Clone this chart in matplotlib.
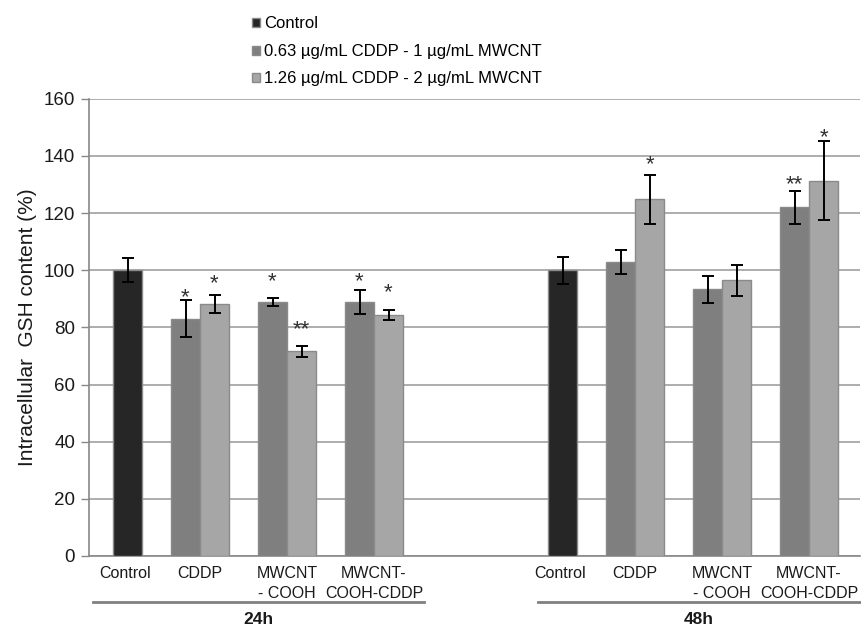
import matplotlib
matplotlib.use("Agg")
import matplotlib.pyplot as plt
import numpy as np
from matplotlib.patches import Patch

plt.rcParams['font.family'] = ['Liberation Sans', 'DejaVu Sans']

# ---- data ----
groups = ["24h", "48h"]
categories = ["Control", "CDDP", "MWCNT\n- COOH", "MWCNT-\nCOOH-CDDP"]
series_labels = ["Control", "0.63 \u00b5g/mL CDDP - 1 \u00b5g/mL MWCNT",
                 "1.26 \u00b5g/mL CDDP - 2 \u00b5g/mL MWCNT"]

control_24 = 100.0
control_24_err = 4.2
low_24 = [83.0, 88.8, 88.8]       # CDDP, MWCNT-COOH, MWCNT-COOH-CDDP
low_24_err = [6.4, 1.5, 4.3]
high_24 = [88.1, 71.6, 84.2]
high_24_err = [3.1, 2.0, 1.7]

control_48 = 100.0
control_48_err = 4.7
low_48 = [102.7, 93.3, 122.0]
low_48_err = [4.2, 4.7, 5.8]
high_48 = [124.8, 96.4, 131.3]
high_48_err = [8.6, 5.5, 13.8]

low_24_stars = ["*", "*", "*"]
high_24_stars = ["*", "**", "*"]
low_48_stars = ["", "", "**"]
high_48_stars = ["*", "", "*"]
# vertical level (in % units) of the significance marks
low_24_star_y = [91.4, 97.0, 97.0]
high_24_star_y = [96.4, 80.2, 93.1]
low_48_star_y = [0, 0, 130.8]
high_48_star_y = [137.8, 0, 147.4]

yticks = [0, 20, 40, 60, 80, 100, 120, 140, 160]
ylabel = "Intracellular  GSH content (%)"

colors = ["#262626", "#7f7f7f", "#a6a6a6"]
edge = "#8a8a8a"

# ---- figure ----
fig = plt.figure(figsize=(8.62, 6.30), dpi=100)
ax = fig.add_axes([89/862, 1-556/630, (860-89)/862, (556-98.7)/630])

w = 1/3.0
group_start = [0, 5]
controls = [control_24, control_48]
controls_err = [control_24_err, control_48_err]
lows = [low_24, low_48]
lows_err = [low_24_err, low_48_err]
highs = [high_24, high_48]
highs_err = [high_24_err, high_48_err]
lows_st = [low_24_stars, low_48_stars]
highs_st = [high_24_stars, high_48_stars]
lows_sy = [low_24_star_y, low_48_star_y]
highs_sy = [high_24_star_y, high_48_star_y]

ekw = dict(ecolor="black", elinewidth=1.4, capsize=4.5, capthick=1.4)
star_kw = dict(ha="center", va="baseline", fontsize=16, color="#303030",
               textcoords="offset points", xytext=(0, -6), zorder=4)
tick_pos = []
tick_lab = []
for g in range(2):
    s = group_start[g]
    xc = s + w/2
    ax.bar(xc, controls[g], width=w, color=colors[0], edgecolor=edge, linewidth=1,
           yerr=controls_err[g], error_kw=ekw, zorder=3)
    tick_pos.append(xc - 0.03)
    tick_lab.append(categories[0])
    for k in range(3):
        c = s + 1 + k
        xl = c - w/2
        xh = c + w/2
        ax.bar(xl, lows[g][k], width=w, color=colors[1], edgecolor=edge, linewidth=1,
               yerr=lows_err[g][k], error_kw=ekw, zorder=3)
        ax.bar(xh, highs[g][k], width=w, color=colors[2], edgecolor=edge, linewidth=1,
               yerr=highs_err[g][k], error_kw=ekw, zorder=3)
        if lows_st[g][k]:
            ax.annotate(lows_st[g][k], (xl, lows_sy[g][k]), **star_kw)
        if highs_st[g][k]:
            ax.annotate(highs_st[g][k], (xh, highs_sy[g][k]), **star_kw)
        tick_pos.append(c)
        tick_lab.append(categories[k+1])

ax.set_xlim(-0.276, 8.586)
ax.set_ylim(0, 160)
ax.set_yticks(yticks)
ax.tick_params(axis="y", labelsize=13.5, length=6, width=1, color="#888888",
               labelcolor="#1a1a1a", pad=4)
ax.set_xticks(tick_pos)
ax.set_xticklabels(tick_lab, fontsize=11.5, color="#1a1a1a", linespacing=1.45)
ax.tick_params(axis="x", length=0, pad=7)
ax.yaxis.grid(True, color="#a0a0a0", linewidth=1.2, zorder=0)
ax.set_axisbelow(True)
for sp in ["top", "right"]:
    ax.spines[sp].set_visible(False)
ax.spines["left"].set_color("#888888")
ax.spines["bottom"].set_color("#888888")
ax.spines["left"].set_linewidth(1.2)
ax.spines["bottom"].set_linewidth(1.2)
ax.set_ylabel(ylabel, fontsize=15, color="#1a1a1a", labelpad=5)

# group brackets
spans = [(-0.23, 3.575), (4.885, 8.586)]
for g in range(2):
    x0, x1 = spans[g]
    ax.plot([x0, x1], [-16.2, -16.2], color="#808080", linewidth=2, clip_on=False)
    ax.text((x0+x1)/2, -22.3, groups[g], ha="center", va="center", fontsize=12.5,
            fontweight="bold", color="#1a1a1a")

handles = [Patch(facecolor=colors[i], edgecolor=edge) for i in range(3)]
fig.legend(handles, series_labels, loc="upper left",
           bbox_to_anchor=(252/862, 1-16.5/630), frameon=False, fontsize=12,
           handlelength=0.45, handleheight=0.45, handletextpad=0.25,
           labelspacing=0.75, borderaxespad=0, borderpad=0)

fig.savefig("out.png", dpi=100)
